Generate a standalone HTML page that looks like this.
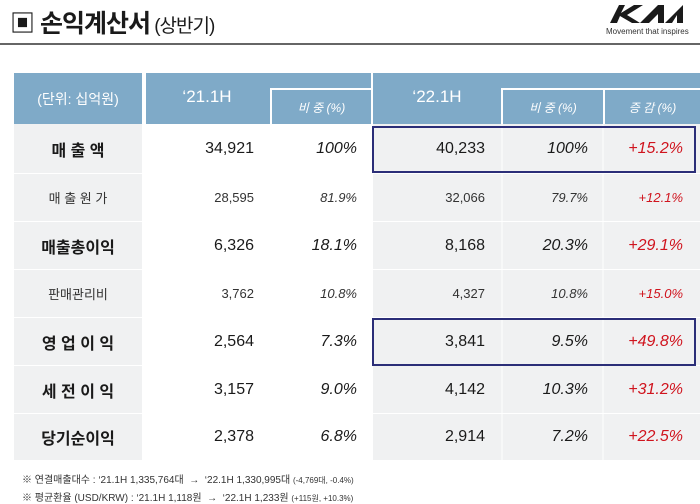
<!DOCTYPE html>
<html><head><meta charset="utf-8"><style>
body{margin:0;width:700px;height:503px;background:#fff;position:relative;overflow:hidden;font-family:"Liberation Sans","Noto Sans CJK KR",sans-serif;color:#1a1a1a}
.a{position:absolute}
.hd{background:#7faac8;color:#fff}
.g{background:#f0f1f2}
.c{position:absolute;display:flex;align-items:center}
.r{justify-content:flex-end}
.m{justify-content:center}
.i{font-style:italic}
</style></head><body>
<div class="a" style="left:10px;top:4px;font-size:25px;font-weight:bold;letter-spacing:-1px">▣ 손익계산서<span style="font-size:19px;font-weight:normal"> (상반기)</span></div>
<div class="a" style="left:610px;top:4px;width:74px;height:20px">
<svg width="74" height="20" viewBox="0 0 74 20"><path d="M0 19 L9 1 L15 1 L11 9 L24 1 L33 1 L17 11 L30 19 L22 19 L10 12 L7 19 Z M30 19 L48 1 L54 1 L54 19 L48 19 L48 10 L39 19 Z M55 19 L73 1 L73 19 L67 19 L67 11 L62 19 Z" fill="#1a1a1a"/></svg></div>
<div class="a" style="left:606px;top:27px;font-size:8px;color:#333">Movement that inspires</div>
<div class="a" style="left:0;top:43px;width:700px;height:2px;background:#666"></div>

<div class="c hd m" style="left:14px;top:73px;width:128px;height:51px;font-size:14px">(단위: 십억원)</div>
<div class="a hd" style="left:146px;top:73px;width:225px;height:51px"></div>
<div class="c" style="left:146px;top:73px;width:122px;height:51px;color:#fff;font-size:17px;justify-content:center;padding-bottom:4px;box-sizing:border-box">‘21.1H</div>
<div class="c m" style="left:270px;top:88px;width:101px;height:36px;color:#fff;font-size:12px;font-style:italic;border-left:2px solid #fff;border-top:2px solid #fff;box-sizing:border-box">비 중 (%)</div>
<div class="a hd" style="left:373px;top:73px;width:327px;height:51px"></div>
<div class="c" style="left:373px;top:73px;width:128px;height:51px;color:#fff;font-size:17px;justify-content:center;padding-bottom:4px;box-sizing:border-box">‘22.1H</div>
<div class="c m" style="left:501px;top:88px;width:102px;height:36px;color:#fff;font-size:12px;font-style:italic;border-left:2px solid #fff;border-top:2px solid #fff;box-sizing:border-box">비 중 (%)</div>
<div class="c m" style="left:603px;top:88px;width:97px;height:36px;color:#fff;font-size:12px;font-style:italic;border-left:2px solid #fff;border-top:2px solid #fff;box-sizing:border-box">증 감 (%)</div>

<div id="rows"></div>
<script>
var rows=[
["매 출 액","34,921","100%","40,233","100%","+15.2%",1,124,49],
["매 출 원 가","28,595","81.9%","32,066","79.7%","+12.1%",0,174,47],
["매출총이익","6,326","18.1%","8,168","20.3%","+29.1%",1,222,47],
["판매관리비","3,762","10.8%","4,327","10.8%","+15.0%",0,270,47],
["영 업 이 익","2,564","7.3%","3,841","9.5%","+49.8%",1,318,47],
["세 전 이 익","3,157","9.0%","4,142","10.3%","+31.2%",1,366,47],
["당기순이익","2,378","6.8%","2,914","7.2%","+22.5%",1,414,46]];
var h="";
rows.forEach(function(r){
var b=r[6],y=r[7],ht=r[8];
var fs=b?"16px":"13px",fw=b?"bold":"normal",col=b?"#1a1a1a":"#333";
var st="top:"+y+"px;height:"+ht+"px;font-size:"+fs+";color:"+col+";";
h+='<div class="c g m" style="left:14px;width:128px;'+st+'font-weight:'+fw+'">'+r[0]+'</div>';
h+='<div class="a g" style="left:373px;width:327px;top:'+y+'px;height:'+ht+'px"></div>';
h+='<div class="a" style="left:501px;width:2px;top:'+y+'px;height:'+ht+'px;background:#f7f8f8"></div>';
h+='<div class="a" style="left:602px;width:2px;top:'+y+'px;height:'+ht+'px;background:#f7f8f8"></div>';
h+='<div class="c r" style="left:146px;width:108px;'+st+'">'+r[1]+'</div>';
h+='<div class="c r i" style="left:270px;width:87px;'+st+'">'+r[2]+'</div>';
h+='<div class="c r" style="left:373px;width:112px;'+st+'">'+r[3]+'</div>';
h+='<div class="c r i" style="left:503px;width:85px;'+st+'">'+r[4]+'</div>';
h+='<div class="c r i" style="left:603px;width:80px;'+st+'color:#d0141e">'+r[5]+'</div>';
h+='<div class="a" style="left:0;top:'+(y+ht)+'px;width:700px;height:2px;background:#fff"></div>';
});
h+='<div class="a" style="left:372px;top:126px;width:324px;height:47px;border:2px solid #2b2e78;box-sizing:border-box"></div>';
h+='<div class="a" style="left:372px;top:318px;width:324px;height:48px;border:2px solid #2b2e78;box-sizing:border-box"></div>';
document.getElementById("rows").innerHTML=h;
</script>
<div class="a" style="left:22px;top:471px;font-size:10px;color:#333">※ 연결매출대수 : ‘21.1H 1,335,764대 &nbsp;→&nbsp; ‘22.1H 1,330,995대 <span style="font-size:8px">(-4,769대, -0.4%)</span></div>
<div class="a" style="left:22px;top:489px;font-size:10px;color:#333">※ 평균환율 (USD/KRW) : ‘21.1H 1,118원 &nbsp;→&nbsp; ‘22.1H 1,233원 <span style="font-size:8px">(+115원, +10.3%)</span></div>
</body></html>
